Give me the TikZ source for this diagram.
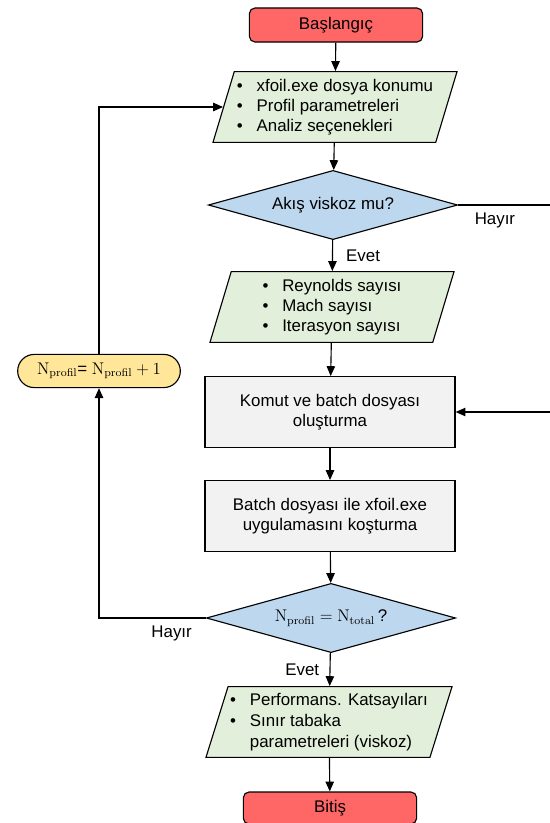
\documentclass[tikz,border=0pt]{standalone}
\usepackage[no-math]{fontspec}
\setmainfont{Liberation Sans}
\usetikzlibrary{shapes.geometric,shapes.misc,arrows.meta}
\definecolor{termred}{RGB}{255,102,102}
\definecolor{iogreen}{RGB}{226,239,218}
\definecolor{askblue}{RGB}{189,215,238}
\definecolor{procgray}{RGB}{242,242,242}
\definecolor{cntyellow}{RGB}{255,230,153}
\tikzset{
	term/.style={draw, rounded corners=4pt, fill=termred, minimum width=4.33cm, minimum height=0.85cm},
	io/.style={draw, trapezium, trapezium left angle=70, trapezium right angle=110, trapezium stretches body, fill=iogreen, align=left, minimum height=1.77cm, minimum width=6.1cm, inner sep=1pt},
	ask/.style={draw, diamond, aspect=3.5, fill=askblue, minimum width=6.23cm, minimum height=1.73cm, inner sep=0pt},
	proc/.style={draw, rectangle, fill=procgray, align=center, minimum width=6.25cm, minimum height=1.77cm},
	counter/.style={draw, rounded rectangle, fill=cntyellow, minimum width=4.3cm, minimum height=0.83cm},
	flow/.style={-{Triangle[length=7pt,width=6pt]}}
}
\newcommand{\itm}{\makebox[14pt][l]{\textbullet}}

\begin{document}
\begin{tikzpicture}[x=0.025cm, y=-0.025cm, line width=0.8pt, every node/.style={font=\fontsize{12}{14.2}\selectfont}]
	%%%%% START %%%%%
	\useasboundingbox (0, 0) rectangle (550, 823);
	
	\node[term] (start) at (336, 25) {Başlangıç};
	\node[io] (in1) at (335, 107) {\itm xfoil.exe dosya konumu\\ \itm Profil parametreleri\\ \itm Analiz seçenekleri};
	\node[ask] (q1) at (333, 205) {Akış viskoz mu?};
	\node[io] (in2) at (332, 307) {\itm Reynolds sayısı\\ \itm Mach sayısı\\ \itm Iterasyon sayısı};
	\node[proc] (komut) at (330, 412) {Komut ve batch dosyası\\ oluşturma};
	\node[proc] (batch) at (330, 516) {Batch dosyası ile xfoil.exe\\ uygulamasını koşturma};
	\node[ask] (q2) at (331, 618) {$\mathrm{N_{profil}} = \mathrm{N_{total}}\,$?};
	\node[io, minimum width=6.15cm, font=\fontsize{12}{15}\selectfont] (out) at (329, 722) {\itm Performans. Katsayıları\\ \itm Sınır tabaka\\ \hspace*{14pt}parametreleri (viskoz)};
	\node[term, minimum height=0.8cm] (stop) at (330, 808) {Bitiş};
	\node[counter] (inc) at (99, 371) {$\mathrm{N_{profil}}$= $\mathrm{N_{profil}}+1$};
	
	\coordinate (rq1) at (550, 205);
	\coordinate (rin) at (550, 412);
	
	% main line
	\draw[flow] (start) -- (in1);
	\draw[flow] (in1) -- (q1);
	\draw[flow] (q1) -- node[right, xshift=6pt] {Evet} (in2);
	\draw[flow] (in2) -- (komut);
	\draw[flow] (komut) -- (batch);
	\draw[flow] (batch) -- (q2);
	\draw[flow] (q2) -- node[left, xshift=-4pt] {Evet} (out);
	\draw[flow] (out) -- (stop);
	
	% no branches
	\draw (q1.east) -- node[below, pos=0.4, yshift=-2pt] {Hayır} (rq1);
	\draw[flow] (rin) -- (komut.east);
	\draw[flow] (q2.west) -| node[below, pos=0.16, yshift=-2pt] {Hayır} (inc.south);
	\draw[flow] (inc.north) |- (in1.west);
	
	%%%%% END %%%%%
\end{tikzpicture}
\end{document}
